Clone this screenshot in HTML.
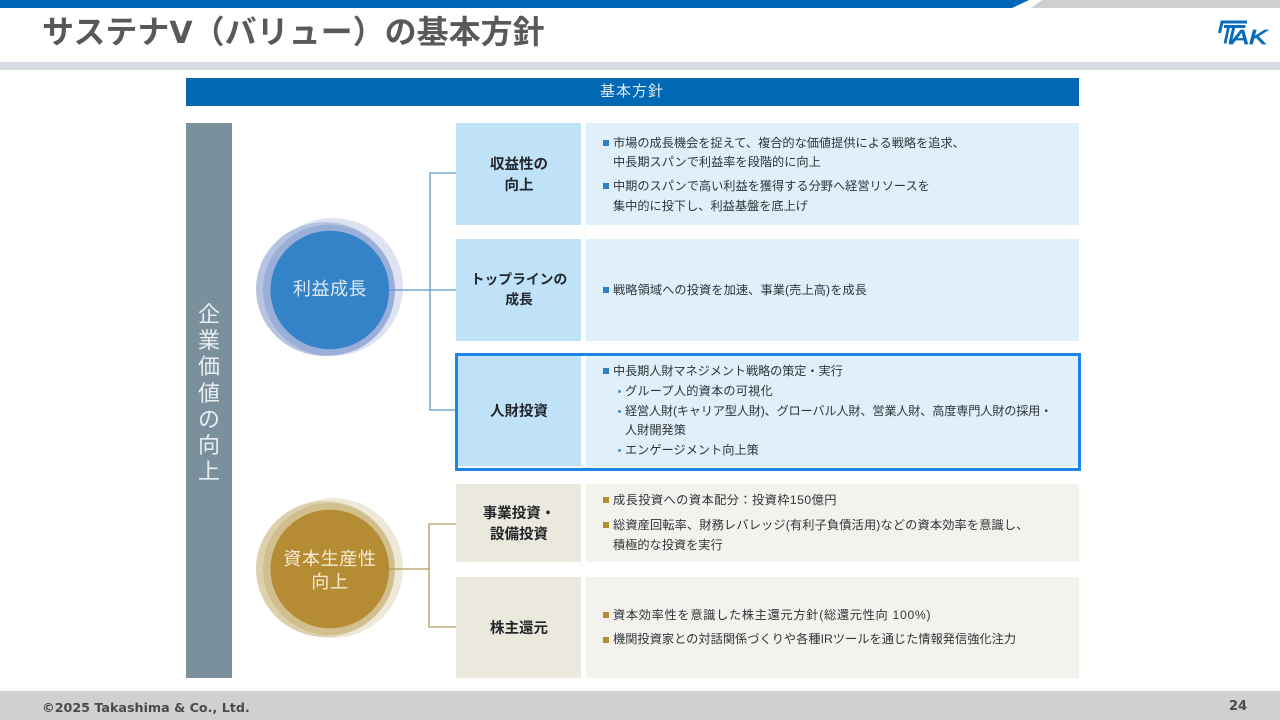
<!DOCTYPE html>
<html lang="ja"><head><meta charset="utf-8"><style>
html,body{margin:0;padding:0;background:#fff}
body{width:1280px;height:720px;position:relative;overflow:hidden;font-family:"Liberation Sans","Noto Sans CJK JP",sans-serif}
.r{position:absolute}
.t{position:absolute;white-space:nowrap;line-height:20px;font-size:12.2px;color:#2f353a}
.h{position:absolute;left:457px;width:124px;text-align:center;font-weight:700;font-size:14.5px;line-height:21px;color:#23272b}
.b{position:absolute;width:6px;height:6px;background:#2f80c4}
.g{background:#b58c34}
.d{position:absolute;width:3px;height:3px;border-radius:50%;background:#3f8fce}
</style></head><body>
<div class="r" style="left:0;top:0;width:1280px;height:8px;background:#cfcfcf"></div>
<svg class="r" style="left:0;top:0" width="1280" height="8"><polygon points="1012,8 1029,0 1042,0 1031,8" fill="#fff"/><polygon points="0,0 1029,0 1012,8 0,8" fill="#0067b8"/></svg>
<div class="r" style="left:0;top:62px;width:1280px;height:8px;background:#d6dce4"></div>
<div class="r" style="left:42px;top:11px;font-size:32px;line-height:42px;font-weight:700;color:#595959;white-space:nowrap">サステナ<span style="font-family:'DejaVu Sans',sans-serif;font-size:30px">V</span>（バリュー）の基本方針</div>
<svg class="r" style="left:1216px;top:18px" width="54" height="30" fill="none"><path d="M3.5 15L6 4H31M8 8.5H29.5M18 8L14 25.5" stroke="#0a6cb9" stroke-width="3"/><path d="M9 25.5L12.5 9" stroke="#0a6cb9" stroke-width="2.8"/><text x="15" y="26" font-family="Liberation Sans" font-size="20" font-style="italic" fill="#0a6cb9" stroke="#0a6cb9" stroke-width=".8" textLength="36" lengthAdjust="spacingAndGlyphs">AK</text></svg>

<div class="r" style="left:186px;top:78px;width:893px;height:28px;background:#0068b5"></div>
<div class="t" style="left:600px;top:82px;font-size:15px;color:#dfe9f3;letter-spacing:1px">基本方針</div>
<div class="r" style="left:186px;top:123px;width:46px;height:555px;background:#7a909d"></div>
<div class="r" style="left:186px;top:302px;width:46px;text-align:center;font-size:22px;line-height:26.2px;color:#e9eef1">企<br>業<br>価<br>値<br>の<br>向<br>上</div>

<svg class="r" style="left:240px;top:120px" width="230" height="570" fill="none">
<ellipse cx="93" cy="167" rx="70" ry="69" fill="#dfe3f1"/>
<ellipse cx="85" cy="169" rx="69" ry="67" fill="#b6c3e1"/>
<ellipse cx="89" cy="170" rx="66" ry="65.5" fill="#99aed8"/>
<circle cx="89.8" cy="170" r="59.3" fill="#3482c8"/>
<path d="M149 170H216M216 53H190V290H216" stroke="#5f98c6" stroke-width="1.3"/>
<ellipse cx="93" cy="448" rx="70" ry="70" fill="#eee8d8"/>
<ellipse cx="85" cy="449" rx="69" ry="68" fill="#dcd0ae"/>
<ellipse cx="89" cy="449" rx="66" ry="66" fill="#d1bf8d"/>
<circle cx="89.8" cy="449" r="59.3" fill="#b58c34"/>
<path d="M149 449H189M216 404H189V507H216" stroke="#b59a5e" stroke-width="1.3"/>
</svg>
<div class="r" style="left:270px;width:120px;top:278px;text-align:center;font-size:18px;line-height:22px;letter-spacing:.5px;color:#dbe9f5">利益成長</div>
<div class="r" style="left:270px;width:120px;top:548px;text-align:center;font-size:18px;line-height:23px;letter-spacing:.7px;color:#f5ecd5">資本生産性<br>向上</div>

<div class="r" style="left:456px;top:123px;width:125px;height:102px;background:#c0e2f9"></div>
<div class="r" style="left:586px;top:123px;width:493px;height:102px;background:#dff0fb"></div>
<div class="r" style="left:456px;top:239px;width:125px;height:102px;background:#c0e2f9"></div>
<div class="r" style="left:586px;top:239px;width:493px;height:102px;background:#dff0fb"></div>
<div class="r" style="left:456px;top:355px;width:125px;height:111px;background:#c0e2f9"></div>
<div class="r" style="left:586px;top:355px;width:493px;height:111px;background:#dff0fb"></div>
<div class="r" style="left:455px;top:353px;width:620px;height:112px;border:3px solid #1b84e6"></div>
<div class="r" style="left:456px;top:484px;width:125px;height:78px;background:#ebe9dd"></div>
<div class="r" style="left:586px;top:484px;width:493px;height:78px;background:#f4f2ec"></div>
<div class="r" style="left:456px;top:577px;width:125px;height:101px;background:#ebe9dd"></div>
<div class="r" style="left:586px;top:577px;width:493px;height:101px;background:#f4f2ec"></div>

<div class="h" style="top:153px;line-height:21px;margin-top:2px">収益性の<br>向上</div>
<div class="h" style="top:270px;font-size:13.8px;line-height:20px">トップラインの<br>成長</div>
<div class="h" style="top:402px">人財投資</div>
<div class="h" style="top:504px">事業投資・<br>設備投資</div>
<div class="h" style="top:619px">株主還元</div>

<div class="b" style="left:603px;top:140px"></div>
<div class="t" style="left:613px;top:133px">市場の成長機会を捉えて、複合的な価値提供による戦略を追求、</div>
<div class="t" style="left:613px;top:152px">中長期スパンで利益率を段階的に向上</div>
<div class="b" style="left:603px;top:183px"></div>
<div class="t" style="left:613px;top:176px">中期のスパンで高い利益を獲得する分野へ経営リソースを</div>
<div class="t" style="left:613px;top:196px">集中的に投下し、利益基盤を底上げ</div>
<div class="b" style="left:603px;top:287px"></div>
<div class="t" style="left:613px;top:280px;letter-spacing:.1px">戦略領域への投資を加速、事業(売上高)を成長</div>

<div class="b" style="left:603px;top:368px"></div>
<div class="t" style="left:613px;top:361px;letter-spacing:-.1px">中長期人財マネジメント戦略の策定・実行</div>
<div class="d" style="left:618px;top:390px"></div>
<div class="t" style="left:625px;top:381px;letter-spacing:.2px">グループ人的資本の可視化</div>
<div class="d" style="left:618px;top:410px"></div>
<div class="t" style="left:625px;top:401px;letter-spacing:-.2px">経営人財(キャリア型人財)、グローバル人財、営業人財、高度専門人財の採用・</div>
<div class="t" style="left:625px;top:420px">人財開発策</div>
<div class="d" style="left:618px;top:449px"></div>
<div class="t" style="left:625px;top:440px">エンゲージメント向上策</div>

<div class="b g" style="left:603px;top:497px"></div>
<div class="t" style="left:613px;top:490px;letter-spacing:.45px">成長投資への資本配分：投資枠150億円</div>
<div class="b g" style="left:603px;top:522px"></div>
<div class="t" style="left:613px;top:515px;letter-spacing:.15px">総資産回転率、財務レバレッジ(有利子負債活用)などの資本効率を意識し、</div>
<div class="t" style="left:613px;top:535px">積極的な投資を実行</div>
<div class="b g" style="left:603px;top:612px"></div>
<div class="t" style="left:613px;top:605px;letter-spacing:.7px">資本効率性を意識した株主還元方針(総還元性向 100%)</div>
<div class="b g" style="left:603px;top:637px"></div>
<div class="t" style="left:613px;top:629px;letter-spacing:.03px">機関投資家との対話関係づくりや各種IRツールを通じた情報発信強化注力</div>

<div class="r" style="left:0;top:691px;width:1280px;height:29px;background:#d0d0d0"></div>
<div class="r" style="left:42px;top:698px;font:700 12.7px/20px 'DejaVu Sans',sans-serif;color:#4a4a4a;white-space:nowrap">©2025 Takashima &amp; Co., Ltd.</div>
<div class="r" style="left:1229px;top:697px;font:700 13px/20px 'DejaVu Sans',sans-serif;color:#4a4a4a">24</div>
</body></html>
